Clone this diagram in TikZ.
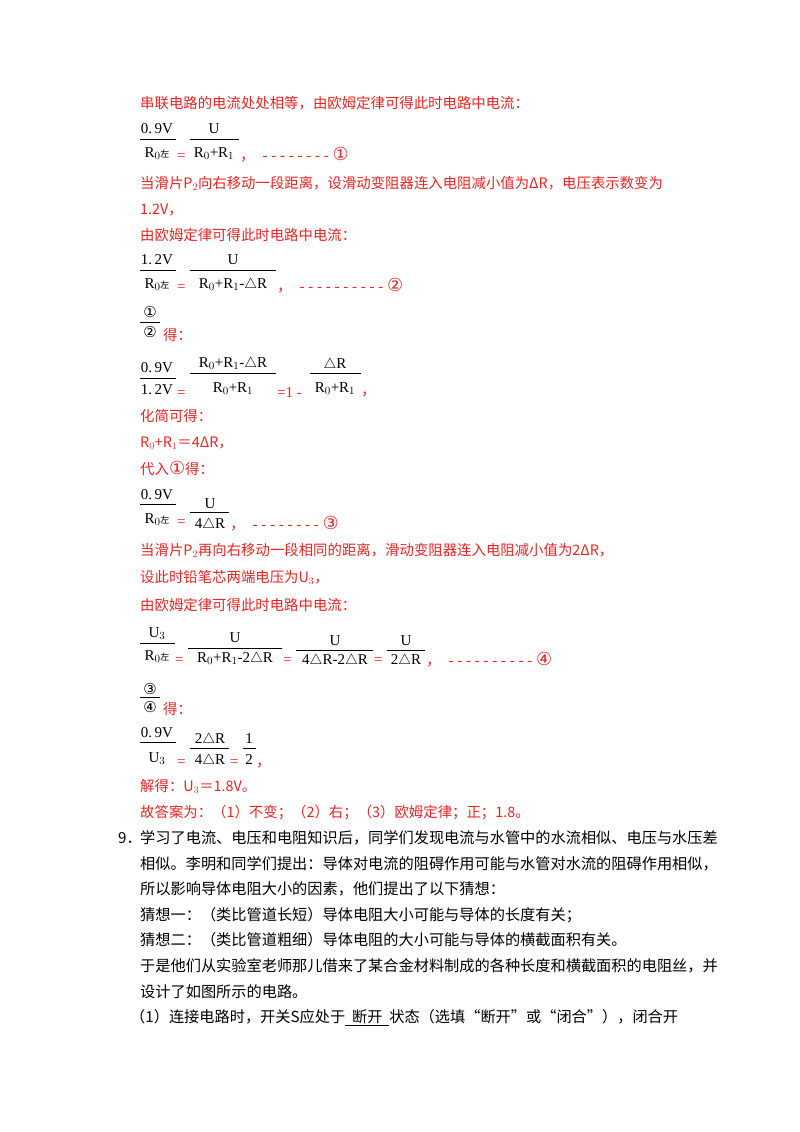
\documentclass[tikz,border=0pt]{standalone}
\usepackage{fontspec}
\setmainfont{Liberation Serif}
\newfontfamily\cjk{Noto Sans CJK SC}
\newfontfamily\symf{DejaVu Sans}
\definecolor{ansred}{RGB}{235,35,35}
\newcommand{\bigc}[1]{{\symf\fontsize{18}{18}\selectfont #1}}
\begin{document}
\begin{tikzpicture}[x=1pt,y=-1pt,
  rt/.style={anchor=base west,inner sep=0,text=ansred,font=\cjk\fontsize{14.4}{15}\selectfont},
  bt/.style={anchor=base west,inner sep=0,text=black,font=\cjk\fontsize{15.2}{17}\selectfont},
  fm/.style={anchor=base,inner sep=0,text=black,font=\fontsize{15}{16}\selectfont},
  eq/.style={anchor=base west,inner sep=0,text=ansred,font=\fontsize{15}{16}\selectfont},
  bar/.style={black,line width=0.9pt}]
\useasboundingbox (0,0) rectangle (800,1132);
% block 1
\node[rt] (t1) at (140,108) {串联电路的电流处处相等，由欧姆定律可得此时电路中电流：};
\node[fm] (f1a) at (157,133) {0.\,9V};
\node[fm] (f1b) at (157,157) {R$_{0}$\cjk\small 左};
\draw[bar] (140,139) -- (176,139);
\node[eq] (e1) at (177,160) {=};
\node[fm] (f1c) at (214,133) {U};
\node[fm] (f1d) at (214,157) {R$_0$+R$_1$};
\draw[bar] (190,139) -- (239,139);
\node[eq] (d1) at (240,160) {{\cjk ，}\ \ - - - - - - - - \bigc{①}};
\node[rt] (t2) at (140,188) {当滑片P$_2$向右移动一段距离，设滑动变阻器连入电阻减小值为ΔR，电压表示数变为};
\node[rt] (t3) at (140,214) {1.2V，};
\node[rt] (t4) at (140,240) {由欧姆定律可得此时电路中电流：};
% block 2
\node[fm] (f2a) at (157,264) {1.\,2V};
\node[fm] (f2b) at (157,288) {R$_{0}$\cjk\small 左};
\draw[bar] (140,270) -- (176,270);
\node[eq] (e2) at (177,291) {=};
\node[fm] (f2c) at (233,264) {U};
\node[fm] (f2d) at (233,288) {R$_0$+R$_1$-$\triangle$R};
\draw[bar] (190,270) -- (276,270);
\node[eq] (d2) at (277,291) {{\cjk ，}\ \ - - - - - - - - - - \bigc{②}};
\node[fm] (c1) at (150,317) {\symf ①};
\draw[bar] (140,322) -- (160,322);
\node[fm] (c2) at (150,337) {\symf ②};
\node[rt] (de1) at (163,340) {得：};
% block 3
\node[fm] (f3a) at (157,372) {0.\,9V};
\node[fm] (f3b) at (157,394) {1.\,2V};
\draw[bar] (140,378) -- (176,378);
\node[eq] (e3) at (177,397) {=};
\node[fm] (f3c) at (233,367) {R$_0$+R$_1$-$\triangle$R};
\draw[bar] (190,373) -- (276,373);
\node[fm] (f3d) at (233,392) {R$_0$+R$_1$};
\node[eq] (e3b) at (277,397) {=1 -};
\node[fm] (f3e) at (335,368) {$\triangle$R};
\draw[bar] (310,373) -- (361,373);
\node[fm] (f3f) at (335,392) {R$_0$+R$_1$};
\node[eq] (c3) at (361,395) {\cjk ，};
\node[rt] (t5) at (140,421) {化简可得：};
\node[rt] (t6) at (140,447) {R$_0$+R$_1$＝4ΔR，};
\node[rt] (t7) at (140,474) {代入\bigc{①}得：};
% block 4
\node[fm] (f4a) at (157,499) {0.\,9V};
\node[fm] (f4b) at (157,523) {R$_{0}$\cjk\small 左};
\draw[bar] (140,504) -- (176,504);
\node[eq] (e4) at (177,526) {=};
\node[fm] (f4c) at (210,508) {U};
\draw[bar] (190,512) -- (229,512);
\node[fm] (f4d) at (210,528) {4$\triangle$R};
\node[eq] (d4) at (230,529) {{\cjk ，}\ \ - - - - - - - - \bigc{③}};
\node[rt] (t8) at (140,555) {当滑片P$_2$再向右移动一段相同的距离，滑动变阻器连入电阻减小值为2ΔR，};
\node[rt] (t9) at (140,582) {设此时铅笔芯两端电压为U$_3$，};
\node[rt] (t10) at (140,610) {由欧姆定律可得此时电路中电流：};
% block 5
\node[fm] (f5a) at (157,637) {U$_3$};
\node[fm] (f5b) at (157,660) {R$_{0}$\cjk\small 左};
\draw[bar] (140,643) -- (175,643);
\node[eq] (e5) at (175,664) {=};
\node[fm] (f5c) at (235,642) {U};
\draw[bar] (188,648) -- (282,648);
\node[fm] (f5d) at (235,662) {R$_0$+R$_1$-2$\triangle$R};
\node[eq] (e5b) at (283,664) {=};
\node[fm] (f5e) at (335,645) {U};
\draw[bar] (296,650) -- (373,650);
\node[fm] (f5f) at (335,664) {4$\triangle$R-2$\triangle$R};
\node[eq] (e5c) at (374,664) {=};
\node[fm] (f5g) at (406,645) {U};
\draw[bar] (387,650) -- (425,650);
\node[fm] (f5h) at (406,664) {2$\triangle$R};
\node[eq] (d5) at (426,665) {{\cjk ，}\ \ - - - - - - - - - - \bigc{④}};
\node[fm] (c4) at (150,694) {\symf ③};
\draw[bar] (140,697) -- (160,697);
\node[fm] (c5) at (150,712) {\symf ④};
\node[rt] (de2) at (163,714) {得：};
% block 6
\node[fm] (f6a) at (157,737) {0.\,9V};
\draw[bar] (140,742) -- (176,742);
\node[fm] (f6b) at (157,762) {U$_3$};
\node[eq] (e6) at (177,766) {=};
\node[fm] (f6c) at (210,743) {2$\triangle$R};
\draw[bar] (190,748) -- (229,748);
\node[fm] (f6d) at (210,764) {4$\triangle$R};
\node[eq] (e6b) at (230,766) {=};
\node[fm] (f6e) at (249,743) {1};
\draw[bar] (243,748) -- (256,748);
\node[fm] (f6f) at (249,764) {2};
\node[eq] (c6) at (256,766) {\cjk ，};
\node[rt] (sol) at (140,791) {解得：U$_3$＝1.8V。};
\node[rt] (ans) at (140,817) {故答案为：（1）不变；（2）右；（3）欧姆定律；正；1.8。};
% question 9
\node[bt] (q0) at (118,843) {9．};
\node[bt] (q1) at (140,843) {学习了电流、电压和电阻知识后，同学们发现电流与水管中的水流相似、电压与水压差};
\node[bt] (q2) at (140,869) {相似。李明和同学们提出：导体对电流的阻碍作用可能与水管对水流的阻碍作用相似，};
\node[bt] (q3) at (140,894) {所以影响导体电阻大小的因素，他们提出了以下猜想：};
\node[bt] (q4) at (140,920) {猜想一：（类比管道长短）导体电阻大小可能与导体的长度有关；};
\node[bt] (q5) at (140,945) {猜想二：（类比管道粗细）导体电阻的大小可能与导体的横截面积有关。};
\node[bt] (q6) at (140,971) {于是他们从实验室老师那儿借来了某合金材料制成的各种长度和横截面积的电阻丝，并};
\node[bt] (q7) at (140,997) {设计了如图所示的电路。};
\node[bt] (q8) at (130,1022) {（1）连接电路时，开关S应处于\underline{\ \ 断开\ \ }状态（选填“断开”或“闭合”），闭合开};
\end{tikzpicture}
\end{document}
